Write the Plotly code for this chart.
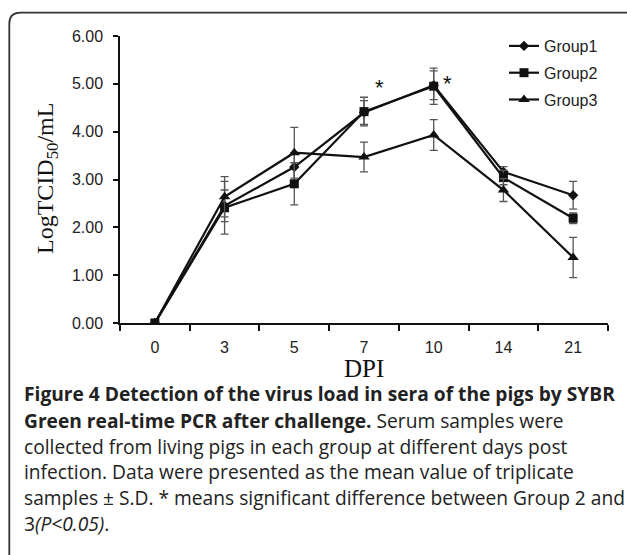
import plotly.graph_objects as go

dpi = ["0", "3", "5", "7", "10", "14", "21"]
group1 = [0.00, 2.45, 3.26, 4.40, 4.97, 3.16, 2.67]
group1_sd = [0.00, 0.33, 0.30, 0.25, 0.30, 0.11, 0.29]
group2 = [0.00, 2.41, 2.91, 4.42, 4.95, 3.04, 2.19]
group2_sd = [0.00, 0.55, 0.44, 0.30, 0.38, 0.15, 0.11]
group3 = [0.00, 2.64, 3.56, 3.47, 3.93, 2.78, 1.37]
group3_sd = [0.00, 0.42, 0.53, 0.31, 0.32, 0.24, 0.42]
y_ticks = [0, 1, 2, 3, 4, 5, 6]

W, H = 627, 555
L, R, T, B = 120, 19, 36, 232
pw, ph = W - L - R, H - T - B

def px(x):
    return (x - L) / pw

def py(y):
    return (H - B - y) / ph

series = [
    ("Group1", group1, group1_sd, "diamond", 8),
    ("Group2", group2, group2_sd, "square", 9),
    ("Group3", group3, group3_sd, "triangle-up", 10),
]

fig = go.Figure()
for i, (name, vals, sd, sym, size) in enumerate(series):
    fig.add_trace(go.Scatter(
        x=dpi, y=vals, name=name, mode="lines+markers",
        line=dict(color="#111111", width=2.2),
        marker=dict(symbol=sym, size=size, color="#111111"),
        error_y=dict(type="data", array=sd, visible=True, color="#555555",
                     thickness=1.3, width=4),
        legendgroup=f"g{i}",
    ))

fig.update_layout(
    width=W, height=H,
    margin=dict(l=L, r=R, t=T, b=B),
    paper_bgcolor="white", plot_bgcolor="white",
    showlegend=True,
    legend=dict(x=px(504), y=py(29), xanchor="left", yanchor="top",
                font=dict(family="Liberation Sans, Arial", size=16, color="#222"),
                bgcolor="rgba(0,0,0,0)", traceorder="grouped", tracegroupgap=3,
                itemwidth=30),
    font=dict(family="Liberation Sans, Arial", size=16, color="#222"),
)
fig.update_xaxes(type="category", range=[-0.5, 6.5], showline=True,
                 linecolor="#111", linewidth=2, ticks="outside", tickson="boundaries",
                 ticklen=6, tickwidth=1.5, tickcolor="#111", showgrid=False,
                 zeroline=False, ticklabelstandoff=9,
                 tickfont=dict(family="Liberation Sans, Arial", size=16, color="#222"))
fig.update_yaxes(range=[0, 6], tickvals=y_ticks, tickformat=".2f", showline=True,
                 linecolor="#111", linewidth=1.5, ticks="outside", ticklen=5,
                 tickwidth=1.5, tickcolor="#111", showgrid=False, zeroline=False,
                 ticklabelstandoff=7,
                 tickfont=dict(family="Liberation Sans, Arial", size=16, color="#222"))

# axis titles
fig.add_annotation(text="LogTCID<sub>50</sub>/mL", xref="paper", yref="paper",
                   x=px(47), y=py(179), xanchor="center", yanchor="middle",
                   textangle=-90, showarrow=False,
                   font=dict(family="Liberation Serif, Times New Roman", size=24, color="#111"))
fig.add_annotation(text="DPI", xref="paper", yref="paper", x=0.5, y=py(368),
                   xanchor="center", yanchor="middle", showarrow=False,
                   font=dict(family="Liberation Serif, Times New Roman", size=25, color="#111"))

# significance stars
for sx, sy in [(3.22, 4.98), (4.20, 5.08)]:
    fig.add_annotation(text="*", x=sx, y=sy, xref="x", yref="y", showarrow=False,
                       xanchor="center", yanchor="middle", yshift=-3,
                       font=dict(family="Liberation Sans, Arial", size=22, color="#111"))

# caption
cap_font = dict(family="Open Sans", size=19.2, color="#222")
lines = [
    "<b>Figure 4 Detection of the virus load in sera of the pigs by SYBR</b>",
    "<b>Green real-time PCR after challenge.</b> Serum samples were",
    "collected from living pigs in each group at different days post",
    "infection. Data were presented as the mean value of triplicate",
    "samples ± S.D. * means significant difference between Group 2 and",
    "3<i>(P&lt;0.05)</i>.",
]
ys = [393, 420, 446, 471.5, 497, 523]
for t, yy in zip(lines, ys):
    fig.add_annotation(text=t, xref="paper", yref="paper", x=px(22), y=py(yy),
                       xanchor="left", yanchor="middle", showarrow=False,
                       font=cap_font, align="left")

# rounded frame
x0, y0 = px(9.3), py(12.7)
rx, ry = 11 / pw, 11 / ph
x1, yb = px(660), py(600)
fig.add_shape(type="path", xref="paper", yref="paper",
              path=f"M {x0},{yb} L {x0},{y0 - ry} Q {x0},{y0} {x0 + rx},{y0} L {x1},{y0}",
              line=dict(color="#333", width=1.8))

fig.write_html("out.html", config={"displayModeBar": False},
               post_script="document.body.style.margin='0px';document.body.style.overflow='hidden';")
